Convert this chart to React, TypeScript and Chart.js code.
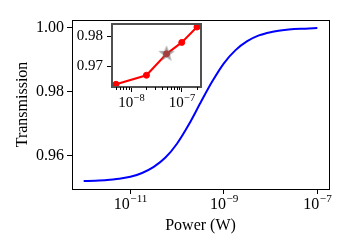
import React, { useEffect, useRef } from "react";
import { Chart, registerables } from "chart.js";
Chart.register(...registerables);

const FONT = "'Liberation Serif', 'Times New Roman', serif";

// Main curve: power (W) and transmission
const mainPower = [1e-12, 1.778e-12, 3.162e-12, 5.623e-12, 1e-11, 1.778e-11, 3.162e-11, 5.623e-11, 1e-10, 1.778e-10, 3.162e-10, 5.623e-10, 1e-9, 1.778e-9, 3.162e-9, 5.623e-9, 1e-8, 1.778e-8, 3.162e-8, 5.623e-8, 1e-7];
const mainTransmission = [0.9522, 0.9523, 0.9525, 0.9529, 0.9535, 0.9547, 0.9566, 0.9595, 0.9639, 0.9698, 0.9766, 0.9832, 0.9889, 0.993, 0.9958, 0.9976, 0.9986, 0.9992, 0.9996, 0.9997, 0.9999];
const mainXTicks = [1e-11, 1e-9, 1e-7];
const mainYTicks = [0.96, 0.98, 1.0];

// Inset data
const insetPower = [5e-9, 2e-8, 5e-8, 1e-7, 2e-7];
const insetTransmission = [0.9641, 0.9671, 0.9742, 0.978, 0.9831];
const starPower = [5e-8];
const starTransmission = [0.9742];
const insetXTicks = [1e-8, 1e-7];
const insetXMinorTicks = [5e-9, 6e-9, 7e-9, 8e-9, 9e-9, 2e-8, 3e-8, 4e-8, 5e-8, 6e-8, 7e-8, 8e-8, 9e-8, 2e-7];
const insetYTicks = [0.97, 0.98];

function makeDecor(cfg: any) {
  return {
    id: cfg.id,
    beforeDraw(chart: any) {
      if (!cfg.fill) return;
      const ctx = chart.ctx;
      const a = chart.chartArea;
      ctx.save();
      ctx.fillStyle = "#ffffff";
      ctx.fillRect(a.left, a.top, a.right - a.left, a.bottom - a.top);
      ctx.restore();
    },
    afterDraw(chart: any) {
      const ctx = chart.ctx;
      const a = chart.chartArea;
      const xs = chart.scales.x;
      ctx.save();
      ctx.strokeStyle = cfg.frameColor;
      ctx.lineWidth = cfg.frameWidth;
      const o = cfg.frameWidth % 2 === 1 ? 0.5 : 0;
      ctx.strokeRect(a.left + o, a.top + o, a.right - a.left, a.bottom - a.top);
      if (cfg.minor) {
        ctx.strokeStyle = "#000";
        ctx.lineWidth = 1;
        for (const v of cfg.minor) {
          const x = Math.round(xs.getPixelForValue(v)) + 0.5;
          ctx.beginPath();
          ctx.moveTo(x, a.bottom);
          ctx.lineTo(x, a.bottom + cfg.minorLen);
          ctx.stroke();
        }
      }
      ctx.fillStyle = "#000";
      ctx.textBaseline = "alphabetic";
      ctx.textAlign = "left";
      const baseFont = `${cfg.base}px ${FONT}`;
      const supFont = `${cfg.sup}px ${FONT}`;
      for (const v of cfg.ticks) {
        const x = xs.getPixelForValue(v);
        const exp = "\u2212" + Math.abs(Math.round(Math.log10(v)));
        ctx.font = baseFont;
        const w1 = ctx.measureText("10").width;
        ctx.font = supFont;
        const w2 = ctx.measureText(exp).width;
        const start = x - (w1 + w2) / 2;
        ctx.font = baseFont;
        ctx.fillText("10", start, cfg.baseline);
        ctx.font = supFont;
        ctx.fillText(exp, start + w1 + 0.5, cfg.baseline - cfg.rise);
      }
      ctx.restore();
    },
  };
}

function makeStar(): HTMLCanvasElement {
  const c = document.createElement("canvas");
  c.width = 18;
  c.height = 18;
  const ctx = c.getContext("2d")!;
  const cx = 9, cy = 9, R = 8.5, r = 3.6;
  ctx.beginPath();
  for (let i = 0; i < 10; i++) {
    const ang = -Math.PI / 2 + (i * Math.PI) / 5;
    const rad = i % 2 === 0 ? R : r;
    const px = cx + rad * Math.cos(ang);
    const py = cy + rad * Math.sin(ang);
    if (i === 0) ctx.moveTo(px, py);
    else ctx.lineTo(px, py);
  }
  ctx.closePath();
  ctx.fillStyle = "rgba(105,105,105,0.6)";
  ctx.fill();
  return c;
}

export default function App() {
  const mainRef = useRef<HTMLCanvasElement>(null);
  const insetRef = useRef<HTMLCanvasElement>(null);

  useEffect(() => {
    const tickFont = { family: FONT, size: 16 };
    const main = new Chart(mainRef.current!, {
      type: "line",
      data: {
        datasets: [
          {
            data: mainPower.map((p, i) => ({ x: p, y: mainTransmission[i] })),
            borderColor: "#0000ff",
            borderWidth: 2,
            pointRadius: 0,
            fill: false,
            cubicInterpolationMode: "monotone",
          },
        ],
      },
      options: {
        animation: false,
        responsive: false,
        devicePixelRatio: 1,
        layout: { padding: { left: 0, right: 21, top: 20, bottom: 0 } },
        plugins: { legend: { display: false }, tooltip: { enabled: false } },
        scales: {
          x: {
            type: "logarithmic",
            min: 5.623e-13,
            max: 1.778e-7,
            afterBuildTicks: (s: any) => {
              s.ticks = mainXTicks.map((v) => ({ value: v }));
            },
            afterFit: (s: any) => {
              s.height = 61;
            },
            ticks: { display: false, autoSkip: false },
            grid: { drawOnChartArea: false, drawTicks: true, tickLength: 5, color: "#000", tickColor: "#000" },
            border: { display: false },
            title: {
              display: true,
              text: "Power (W)",
              color: "#000",
              font: { family: FONT, size: 16 },
              padding: { top: 0, bottom: 15 },
            },
          },
          y: {
            type: "linear",
            min: 0.9497,
            max: 1.0024,
            afterBuildTicks: (s: any) => {
              s.ticks = mainYTicks.map((v) => ({ value: v }));
            },
            afterFit: (s: any) => {
              s.width = 72;
            },
            ticks: {
              autoSkip: false,
              color: "#000",
              font: tickFont,
              padding: 3,
              callback: (v: any) => Number(v).toFixed(2),
            },
            grid: { drawOnChartArea: false, drawTicks: true, tickLength: 5, color: "#000", tickColor: "#000" },
            border: { display: false },
            title: {
              display: true,
              text: "Transmission",
              color: "#000",
              font: { family: FONT, size: 16 },
              padding: { top: 13, bottom: 0 },
            },
          },
        },
      },
      plugins: [
        makeDecor({
          id: "mainDecor",
          fill: false,
          frameColor: "#000",
          frameWidth: 1,
          ticks: mainXTicks,
          base: 16,
          sup: 11.2,
          baseline: 209,
          rise: 7,
        }),
      ],
    } as any);

    const star = makeStar();
    const inset = new Chart(insetRef.current!, {
      type: "line",
      data: {
        datasets: [
          {
            data: starPower.map((p, i) => ({ x: p, y: starTransmission[i] })),
            showLine: false,
            pointStyle: star as any,
            pointRadius: 8,
          },
          {
            data: insetPower.map((p, i) => ({ x: p, y: insetTransmission[i] })),
            borderColor: "#ff0000",
            backgroundColor: "#ff0000",
            borderWidth: 2,
            pointRadius: 3,
            pointBorderWidth: 1,
            pointBorderColor: "#ff0000",
            pointBackgroundColor: "#ff0000",
            fill: false,
          },
        ],
      },
      options: {
        animation: false,
        responsive: false,
        devicePixelRatio: 1,
        layout: { padding: { left: 0, right: 149, top: 24, bottom: 0 } },
        plugins: { legend: { display: false }, tooltip: { enabled: false } },
        scales: {
          x: {
            type: "logarithmic",
            min: 4.159e-9,
            max: 2.404e-7,
            afterBuildTicks: (s: any) => {
              s.ticks = insetXTicks.map((v) => ({ value: v }));
            },
            afterFit: (s: any) => {
              s.height = 163;
            },
            ticks: { display: false, autoSkip: false },
            grid: { drawOnChartArea: false, drawTicks: true, tickLength: 5, color: "#000", tickColor: "#000" },
            border: { display: false },
          },
          y: {
            type: "linear",
            min: 0.9632,
            max: 0.9841,
            afterBuildTicks: (s: any) => {
              s.ticks = insetYTicks.map((v) => ({ value: v }));
            },
            afterFit: (s: any) => {
              s.width = 112;
            },
            ticks: {
              autoSkip: false,
              color: "#000",
              font: { family: FONT, size: 15 },
              padding: 4,
              callback: (v: any) => Number(v).toFixed(2),
            },
            grid: { drawOnChartArea: false, drawTicks: true, tickLength: 5, color: "#000", tickColor: "#000" },
            border: { display: false },
          },
        },
      },
      plugins: [
        makeDecor({
          id: "insetDecor",
          fill: true,
          frameColor: "#505050",
          frameWidth: 2,
          minor: insetXMinorTicks,
          minorLen: 3,
          ticks: insetXTicks,
          base: 15,
          sup: 10.5,
          baseline: 107,
          rise: 6.5,
        }),
      ],
    } as any);

    return () => {
      main.destroy();
      inset.destroy();
    };
  }, []);

  const cs: React.CSSProperties = { position: "absolute", left: 0, top: 0, width: 350, height: 250 };
  return (
    <div style={{ position: "fixed", left: 0, top: 0, width: 350, height: 250, background: "#fff" }}>
      <canvas ref={mainRef} width={350} height={250} style={cs} />
      <canvas ref={insetRef} width={350} height={250} style={{ ...cs, pointerEvents: "none" }} />
    </div>
  );
}
